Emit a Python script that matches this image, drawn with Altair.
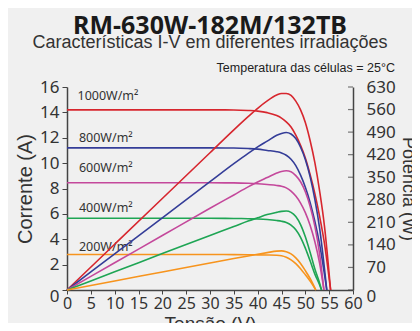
import altair as alt
import pandas as pd

# ---- data ----
SERIES = ["1000", "800", "600", "400", "200"]
COLORS = ["#d7262e", "#343d98", "#c4489b", "#1ea554", "#f7941d"]

V1000 = [0, 10, 20, 30, 35, 38, 40, 42, 44, 45, 46, 47, 48, 49, 50, 51, 52, 53, 54, 55.3]
I1000 = [14.2, 14.2, 14.2, 14.2, 14.19, 14.15, 14.1, 13.98, 13.75, 13.55, 13.25, 12.85, 12.2, 11.4, 10.4, 9.1, 7.6, 5.8, 3.7, 0]
P1000 = [0, 142, 284, 426, 497, 538, 564, 587, 605, 610, 610, 604, 586, 559, 520, 464, 395, 307, 200, 0]

V800 = [0, 10, 20, 30, 35, 38, 40, 42, 44, 45, 46, 47, 48, 49, 50, 51, 52, 53, 54.5]
I800 = [11.2, 11.2, 11.2, 11.2, 11.19, 11.15, 11.1, 11.0, 10.9, 10.8, 10.62, 10.3, 9.8, 9.05, 8.1, 6.9, 5.4, 3.6, 0]
P800 = [0, 112, 224, 336, 392, 424, 444, 462, 480, 486, 489, 484, 470, 443, 405, 352, 281, 191, 0]

V600 = [0, 10, 20, 30, 35, 38, 40, 42, 44, 45, 46, 47, 48, 49, 50, 51, 52, 53, 53.9]
I600 = [8.45, 8.45, 8.45, 8.45, 8.44, 8.41, 8.37, 8.31, 8.24, 8.18, 8.05, 7.8, 7.4, 6.85, 6.1, 5.1, 3.8, 2.1, 0]
P600 = [0, 84.5, 169, 253.5, 295, 320, 335, 349, 363, 368, 370, 367, 355, 336, 305, 260, 198, 111, 0]

V400 = [0, 10, 20, 30, 35, 38, 40, 42, 44, 45, 46, 47, 48, 49, 50, 51, 52, 53, 53.4]
I400 = [5.65, 5.65, 5.65, 5.65, 5.64, 5.62, 5.6, 5.56, 5.48, 5.42, 5.32, 5.12, 4.75, 4.15, 3.3, 2.3, 1.25, 0.4, 0]
P400 = [0, 56.5, 113, 169.5, 197, 214, 224, 234, 241, 244, 245, 241, 228, 203, 165, 117, 65, 21, 0]

V200 = [0, 10, 20, 30, 35, 38, 40, 42, 44, 45, 46, 47, 48, 49, 50, 51, 52.2]
I200 = [2.8, 2.8, 2.8, 2.8, 2.79, 2.78, 2.77, 2.76, 2.74, 2.7, 2.58, 2.38, 2.08, 1.68, 1.2, 0.7, 0]
P200 = [0, 28, 56, 84, 97.7, 105.6, 110.8, 115.9, 120.6, 121.5, 118.7, 111.9, 99.8, 82.3, 60, 35.7, 0]

LABELS = ["1000W/m²", "800W/m²", "600W/m²", "400W/m²", "200W/m²"]
LABEL_V = [2.2, 2.5, 2.5, 2.5, 2.5]
LABEL_I = [15.3, 11.95, 9.65, 6.5, 3.35]

X_TICKS = list(range(0, 61, 5))
I_TICKS = list(range(0, 17, 2))
P_TICKS = list(range(0, 631, 70))

NOTE = ["Temperatura das células = 25°C"]
NOTE_V = [68.8]
NOTE_I = [17.5]

# ---- build tables ----
curves = [(SERIES[0], V1000, I1000, P1000), (SERIES[1], V800, I800, P800),
          (SERIES[2], V600, I600, P600), (SERIES[3], V400, I400, P400),
          (SERIES[4], V200, I200, P200)]
rows = []
for name, vs, cs, ps in curves:
    for v, c, p in zip(vs, cs, ps):
        rows.append({"irr": name, "V": v, "I": c, "P": p})
df = pd.DataFrame(rows)
lab_df = pd.DataFrame({"text": LABELS, "V": LABEL_V, "I": LABEL_I})
note_df = pd.DataFrame({"text": NOTE, "V": NOTE_V, "I": NOTE_I})
pt_df = pd.DataFrame({"P": P_TICKS, "V": [60] * len(P_TICKS)})

color = alt.Color("irr:N", scale=alt.Scale(domain=SERIES, range=COLORS), legend=None)

AX = "#444444"
TXT = "#333333"

x_scale = alt.Scale(domain=[0, 60], nice=False)
x_axis = alt.Axis(values=X_TICKS, title="Tensão (V)", grid=False,
                  labelFont="Noto Sans", labelFontSize=16, labelColor=TXT,
                  labelOverlap=False, labelPadding=1, labelFlush=False,
                  tickSize=4, tickColor=AX, domainColor=AX, domainWidth=1.5,
                  titleFont="Liberation Sans", titleFontSize=19,
                  titleFontWeight="normal", titleColor=TXT, titlePadding=3)

i_scale = alt.Scale(domain=[0, 16], nice=False)
i_axis = alt.Axis(values=I_TICKS, title="Corrente (A)", grid=False, orient="left",
                  labelFont="Noto Sans", labelFontSize=17, labelColor=TXT,
                  labelOverlap=False, labelPadding=3, labelFlush=False,
                  labelOffset=alt.condition("datum.value == 0", alt.value(6), alt.value(0)),
                  tickSize=5, tickColor=AX, domainColor=AX, domainWidth=1.5,
                  titleFont="Liberation Sans", titleFontSize=20,
                  titleFontWeight="normal", titleColor=TXT, titlePadding=4)

p_scale = alt.Scale(domain=[0, 630], nice=False)
p_axis = alt.Axis(values=P_TICKS, title="Potência (W)", grid=False, orient="right",
                  labelFont="Noto Sans", labelFontSize=17, labelColor=TXT,
                  labelOverlap=False, labelPadding=13, labelFlush=False,
                  labelOffset=alt.condition("datum.value == 0", alt.value(6), alt.value(0)),
                  ticks=False, domainColor=AX, domainWidth=1.5,
                  titleFont="Liberation Sans", titleFontSize=18,
                  titleFontWeight="normal", titleColor=TXT, titlePadding=3)

X = alt.X("V:Q", scale=x_scale, axis=x_axis)
YI = alt.Y("I:Q", scale=i_scale, axis=i_axis)
YP = alt.Y("P:Q", scale=p_scale, axis=p_axis)

iv = alt.Chart(df).mark_line(strokeWidth=1.6, interpolate="monotone").encode(
    x=X, y=YI, color=color, detail="irr:N")

labels = alt.Chart(lab_df).mark_text(align="left", baseline="middle", font="Noto Sans",
                                     fontSize=12.5, color=TXT).encode(
    x=X, y=YI, text="text:N")

note = alt.Chart(note_df).mark_text(
    align="right", baseline="middle", font="Liberation Sans", fontSize=12.5, color="#222").encode(
    x=X, y=YI, text="text:N")

pw = alt.Chart(df).mark_line(strokeWidth=1.6, interpolate="monotone").encode(
    x=X, y=YP, color=color, detail="irr:N")

p_ticks = alt.Chart(pt_df).mark_tick(
    orient="horizontal", size=5, thickness=1.2, color=AX, xOffset=-2.5).encode(
    x=X, y=YP)

left = alt.layer(iv, labels, note)
right = alt.layer(pw, p_ticks)

chart = alt.layer(left, right).resolve_scale(y="independent").properties(
    width=286, height=203,
    autosize=alt.AutoSizeParams(type="none"),
    padding={"left": 59, "top": 79, "right": 59, "bottom": 33},
    background="#f0f0f0",
    title=alt.TitleParams(
        text="RM-630W-182M/132TB",
        subtitle="Características I-V em diferentes irradiações",
        font="Noto Sans", fontSize=25, fontWeight="bold", color="#1a1a1a",
        subtitleFont="Liberation Sans", subtitleFontSize=18, subtitleColor="#333333",
        subtitlePadding=-5, anchor="middle", offset=10),
).configure_view(stroke=None)

chart.save("out.html", embed_options={"renderer": "svg", "actions": False})
